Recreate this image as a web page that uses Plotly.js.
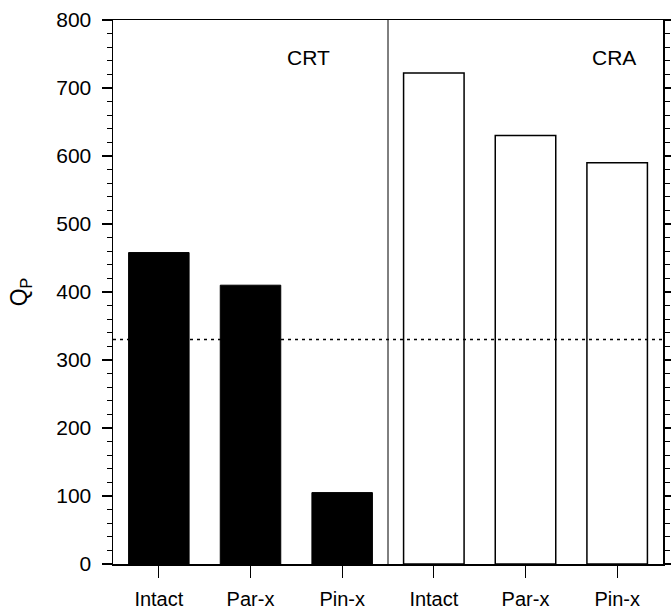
<!DOCTYPE html>
<html>
<head>
<meta charset="utf-8">
<script src="https://cdn.plot.ly/plotly-3.0.1.min.js"></script>
<style>html,body{margin:0;padding:0;background:#fff;}#chart{width:671px;height:608px;}</style>
</head>
<body>
<div id="chart"></div>
<script>
// Data
const categories = ["Intact", "Par-x", "Pin-x", "Intact", "Par-x", "Pin-x"];
const crtPositions = [0, 1, 2];
const craPositions = [3, 4, 5];
const crtValues = [458, 410, 105];
const craValues = [722, 630, 590];
const thresholdValue = 330;
const groupLabels = ["CRT", "CRA"];
const groupLabelX = [1.63, 4.97];
const groupLabelY = 745;
const dividerX = 2.5;
const yTickVals = [0, 100, 200, 300, 400, 500, 600, 700, 800];

const font = "Liberation Sans, Arial, sans-serif";

const traces = [
  {
    type: "bar", x: crtPositions, y: crtValues, width: 0.66,
    marker: {color: "#000", line: {color: "#000", width: 1}},
    showlegend: false, hoverinfo: "skip"
  },
  {
    type: "bar", x: craPositions, y: craValues, width: 0.66,
    marker: {color: "#fff", line: {color: "#000", width: 1.5}},
    showlegend: false, hoverinfo: "skip"
  }
];

const layout = {
  width: 671, height: 608,
  margin: {l: 113, r: 8, t: 20, b: 44},
  paper_bgcolor: "#fff", plot_bgcolor: "#fff",
  barmode: "overlay",
  font: {family: font, size: 20, color: "#000"},
  xaxis: {
    range: [-0.5, 5.5],
    tickmode: "array",
    tickvals: crtPositions.concat(craPositions),
    ticktext: categories,
    ticks: "outside", ticklen: 12, tickwidth: 1, tickcolor: "#000",
    ticklabelstandoff: 4,
    showline: true, linecolor: "#000", linewidth: 1.5,
    mirror: true,
    showgrid: false, zeroline: false,
    tickfont: {family: font, size: 20, color: "#000"}
  },
  yaxis: {
    range: [0, 800],
    tickmode: "array", tickvals: yTickVals,
    ticks: "outside", ticklen: 10, tickwidth: 1.5, tickcolor: "#000",
    ticklabelstandoff: 6,
    minor: {dtick: 20, ticks: "outside", ticklen: 5, tickwidth: 1, tickcolor: "#000", showgrid: false},
    showline: true, linecolor: "#000", linewidth: 1.5,
    mirror: "ticks",
    showgrid: false, zeroline: false,
    tickfont: {family: font, size: 21, color: "#000"},
    title: {text: "Q<sub>P</sub>", font: {family: font, size: 23, color: "#000"}, standoff: 22}
  },
  shapes: [
    {type: "line", xref: "paper", x0: 0, x1: 1, yref: "y", y0: thresholdValue, y1: thresholdValue,
     line: {color: "#000", width: 1.5, dash: "3px,4px"}},
    {type: "line", xref: "x", x0: dividerX, x1: dividerX, yref: "paper", y0: 0, y1: 1,
     line: {color: "#000", width: 1}}
  ],
  annotations: groupLabels.map((t, i) => ({
    text: t, x: groupLabelX[i], y: groupLabelY, xref: "x", yref: "y",
    showarrow: false, font: {family: font, size: 21, color: "#000"}
  }))
};

Plotly.newPlot("chart", traces, layout, {displayModeBar: false, staticPlot: true});
</script>
</body>
</html>
